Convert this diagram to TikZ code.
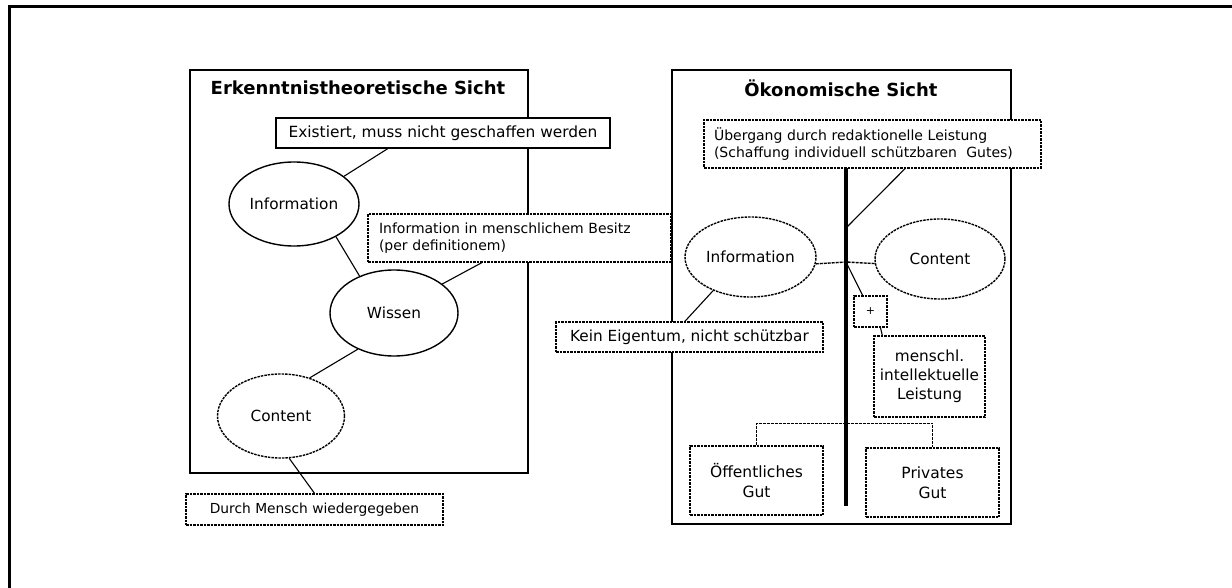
\documentclass[tikz,border=0pt]{standalone}
\usepackage{fontspec}
\setmainfont{DejaVu Sans}
\usetikzlibrary{shapes.geometric,calc}
\begin{document}
\begin{tikzpicture}[x=1pt,y=-1pt,
  txt/.style={font=\fontsize{14}{17}\selectfont},
  etxt/.style={font=\fontsize{15.3}{18}\selectfont},
  ttl/.style={font=\bfseries\fontsize{18}{21}\selectfont, inner sep=0pt},
  panel/.style={draw, rectangle, line width=1.5pt, inner sep=0pt},
  solidbox/.style={draw, rectangle, line width=1.4pt, inner sep=0pt, txt},
  dashbox/.style={solidbox, dash pattern=on 2.5pt off 1pt},
  ell/.style={draw, ellipse, line width=1.4pt, inner sep=0pt, etxt},
  dashell/.style={ell, dash pattern=on 2.5pt off 1pt},
  conn/.style={line width=1.1pt},
  dconn/.style={line width=1.4pt, dash pattern=on 3pt off 1pt},
  thick bar/.style={line width=4pt}
]
\useasboundingbox (0,0) rectangle (1232,588);
% outer frame (top and left edges)
\draw[line width=3pt] (9,588) -- (9,7) -- (1232,7);

% ---------------- left panel ----------------
\node[panel, minimum width=338pt, minimum height=403pt] (lpanel) at (359,271.5) {};
\node[ttl] (ltitle) at (358,88) {Erkenntnistheoretische Sicht};
\node[solidbox, minimum width=334pt, minimum height=30pt, fill=white, font=\fontsize{15.4}{18}\selectfont] (exist) at (443,133) {Existiert, muss nicht geschaffen werden};
\node[ell, minimum width=130pt, minimum height=84pt] (linfo) at (294,204) {Information};
\node[dashbox, minimum height=48pt, text width=281pt, inner xsep=11pt, align=left, fill=white] (besitz) at (519.5,238)
  {Information in menschlichem Besitz\\(per definitionem)};
\node[ell, minimum width=128pt, minimum height=86pt] (wissen) at (394,313) {Wissen};
\node[dashell, minimum width=127pt, minimum height=84pt] (lcontent) at (281,416) {Content};
\node[dashbox, minimum width=257pt, minimum height=31pt, font=\fontsize{13.8}{16}\selectfont] (durch) at (314.5,509.5) {Durch Mensch wiedergegeben};

\draw[conn] ($(exist.south west)!0.335!(exist.south east)$) -- (linfo.29);
\draw[conn] (linfo.-38) -- (wissen.133);
\draw[conn] ($(besitz.south west)!0.376!(besitz.south east)$) -- (wissen.31);
\draw[conn] (wissen.-135) -- (lcontent.53);
\draw[conn] (lcontent.-79) -- (durch.north);

% ---------------- right panel ----------------
\node[panel, minimum width=339pt, minimum height=454pt] (rpanel) at (841.5,297) {};
\node[ttl] (rtitle) at (841,88) {Ökonomische Sicht};
\node[dashbox, minimum height=48pt, text width=317pt, inner xsep=10pt, align=left, fill=white] (ueber) at (872.5,144)
  {Übergang durch redaktionelle Leistung\\(Schaffung individuell schützbaren~ Gutes)};
\coordinate (bartop) at (846,168);
\coordinate (barbot) at (846,506);
\coordinate (bark) at (846,228);
\coordinate (junc) at (846,262);
\draw[thick bar] (bartop) -- (barbot);

\node[dashell, minimum width=131pt, minimum height=80pt] (rinfo) at (750.5,257) {Information};
\node[dashell, minimum width=130pt, minimum height=80pt] (rcontent) at (940,259) {Content};
\node[dashbox, minimum width=33pt, minimum height=31pt, font=\fontsize{11}{13}\selectfont, fill=white] (plus) at (870.5,311.5) {+};
\node[dashbox, minimum width=111pt, minimum height=81pt, align=center, fill=white, font=\fontsize{15.3}{19}\selectfont] (mensch) at (929.5,376.5)
  {menschl.\\intellektuelle\\Leistung};
\node[dashbox, minimum width=267pt, minimum height=30pt, fill=white, font=\fontsize{15.3}{18}\selectfont] (kein) at (689.5,337) {Kein Eigentum, nicht schützbar};
\node[dashbox, minimum width=133pt, minimum height=69pt, align=center, font=\fontsize{15.5}{20}\selectfont] (oeff) at (756.5,480.5) {Öffentliches\\Gut};
\node[dashbox, minimum width=133pt, minimum height=69pt, align=center, font=\fontsize{15.5}{20}\selectfont] (priv) at (932.5,482.5) {Privates\\Gut};

\draw[conn] ($(ueber.south west)!0.596!(ueber.south east)$) -- (bark);
\draw[dconn] (rinfo.-6) -- (junc) -- (rcontent.184);
\draw[conn] (junc) -- ($(plus.north west)!0.27!(plus.north east)$);
\draw[conn] ($(plus.south west)!0.79!(plus.south east)$) -- ($(mensch.north west)!0.08!(mensch.north east)$);
\draw[conn] ($(kein.north west)!0.483!(kein.north east)$) -- (rinfo.-138);
\draw[dconn] (oeff.north) -- ++(0,-22) -| (priv.north);
\end{tikzpicture}
\end{document}
